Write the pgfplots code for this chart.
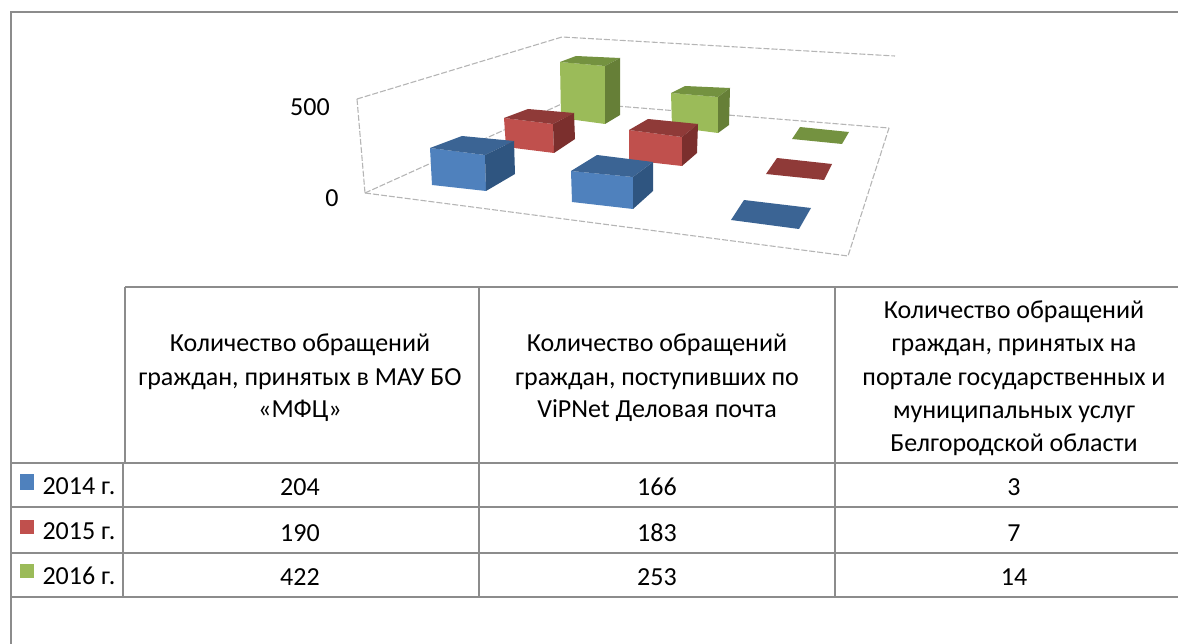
\documentclass[border=0pt]{standalone}
\usepackage{pgfplots}
\pgfplotsset{compat=1.18}
\usepackage{fontspec}
\setmainfont{Carlito}
\definecolor{bF}{HTML}{4F81BD}\definecolor{bT}{HTML}{3B6494}\definecolor{bS}{HTML}{2F5580}
\definecolor{rF}{HTML}{C0504D}\definecolor{rT}{HTML}{8F3A38}\definecolor{rS}{HTML}{7B2F2D}
\definecolor{gF}{HTML}{9BBB59}\definecolor{gT}{HTML}{749240}\definecolor{gS}{HTML}{667F37}
\definecolor{grd}{HTML}{B5B5B5}\definecolor{tb}{HTML}{8C8C8C}
\newcommand{\face}[2]{\addplot[fill=#1,draw=none] coordinates {#2} -- cycle;}
\newcommand{\gl}[1]{\addplot[grd,line width=1.1pt,dash pattern=on 6pt off 2pt] coordinates {#1};}
\newcommand{\tl}[1]{\addplot[tb,line width=1.6pt] coordinates {#1};}
\newcommand{\tx}[3]{\node[anchor=base,inner sep=0pt,text=black,font=\fontsize{26}{26}\selectfont] at (axis cs:#1,#2) {#3};}
\begin{document}
\begin{tikzpicture}
\path[use as bounding box] (0,0) rectangle (1178pt,644pt);
\begin{axis}[at={(0,0)},anchor=south west,width=1178pt,height=644pt,scale only axis,
  xmin=0,xmax=1178,ymin=0,ymax=644,y dir=reverse,hide axis,clip=true]
% walls and floor of the plot
\gl{(357,99) (562,37) (895,56)}
\gl{(357,99) (365,193)}
\gl{(365,193) (566,102) (889,128)}
\gl{(365,193) (848,256) (889,128)}
% green series, back row
\face{gF}{(560,62) (605,66) (605,124) (561,118)}
\face{gT}{(560,62) (576,56) (620,58) (605,66)}
\face{gS}{(605,66) (620,58) (620,115) (605,124)}
\face{gF}{(671,93) (718,97) (718,133) (672,127)}
\face{gT}{(671,93) (685,86) (730,88) (718,97)}
\face{gS}{(718,97) (730,88) (729,125) (718,133)}
\face{gT}{(800,127) (849,132) (842,144) (792,139)}
% red series
\face{rF}{(504,118) (553,124) (554,153) (506,147)}
\face{rT}{(504,118) (528,109) (574,113) (553,124)}
\face{rS}{(553,124) (574,113) (575,139) (554,153)}
\face{rF}{(629,130) (682,137) (682,166) (629,160)}
\face{rT}{(629,130) (648,119) (698,124) (682,137)}
\face{rS}{(682,137) (698,124) (697,153) (682,166)}
\face{rT}{(777,158) (832,164) (824,180) (766,174)}
% blue series, front row
\face{bF}{(430,148) (485,155) (486,191) (432,185)}
\face{bT}{(430,148) (462,136) (514,141) (485,155)}
\face{bS}{(485,155) (514,141) (515,174) (486,191)}
\face{bF}{(571,171) (633,177) (633,209) (572,202)}
\face{bT}{(571,171) (597,155) (653,162) (633,177)}
\face{bS}{(633,177) (653,162) (653,191) (633,209)}
\face{bT}{(744,200) (811,208) (799,229) (731,220)}
% frame and table rules
\tl{(11,644) (11,12) (1178,12)}
\tl{(125,287) (1178,287)}
\tl{(11,463) (1178,463)}
\tl{(11,507) (1178,507)}
\tl{(11,553) (1178,553)}
\tl{(11,597) (1178,597)}
\tl{(125,287) (125,463)}
\tl{(123,463) (123,597)}
\tl{(479,287) (479,597)}
\tl{(835,287) (835,597)}
% legend keys
\face{bF}{(20,474) (34,474) (34,490) (20,490)}
\face{rF}{(20,520) (34,520) (34,534) (20,534)}
\face{gF}{(20,564) (34,564) (34,578) (20,578)}
% axis numbers
\tx{310}{116}{500}
\tx{332}{207}{0}
% header cells
\tx{300}{352}{Количество обращений}
\tx{300}{385}{граждан, принятых в МАУ БО}
\tx{300}{417}{«МФЦ»}
\tx{657}{352}{Количество обращений}
\tx{657}{385}{граждан, поступивших по}
\tx{657}{417}{ViPNet Деловая почта}
\tx{1014}{319}{Количество обращений}
\tx{1014}{352}{граждан, принятых на}
\tx{1014}{385}{портале государственных и}
\tx{1014}{418}{муниципальных услуг}
\tx{1014}{451}{Белгородской области}
% rows
\tx{79}{494}{2014 г.}
\tx{79}{539}{2015 г.}
\tx{79}{584}{2016 г.}
\tx{300}{495}{204}\tx{657}{495}{166}\tx{1014}{495}{3}
\tx{300}{541}{190}\tx{657}{541}{183}\tx{1014}{541}{7}
\tx{300}{585}{422}\tx{657}{585}{253}\tx{1014}{585}{14}
\end{axis}
\end{tikzpicture}
\end{document}
